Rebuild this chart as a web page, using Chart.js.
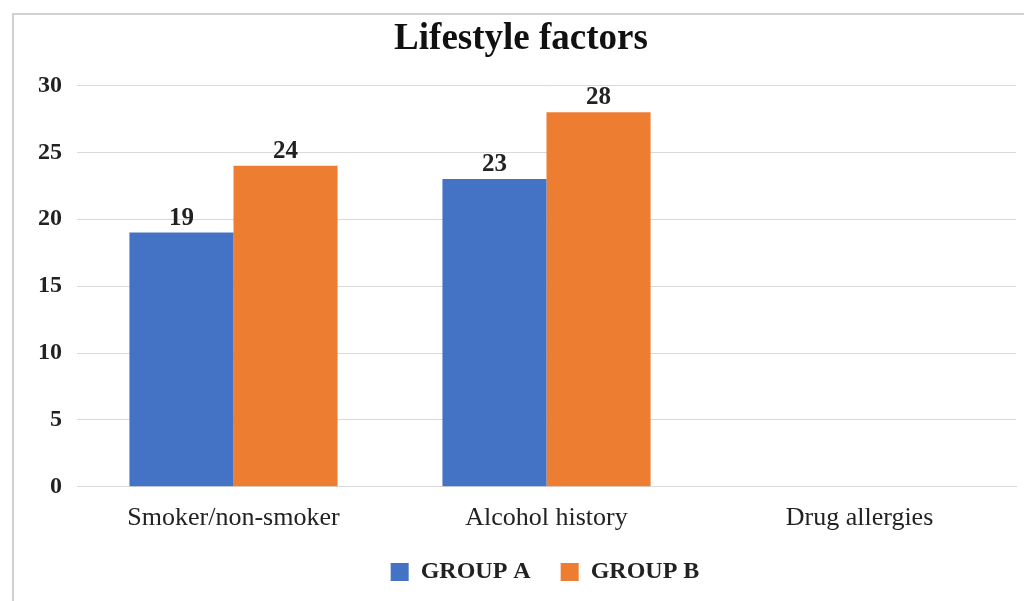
<!DOCTYPE html>
<html>
<head>
<meta charset="utf-8">
<script src="https://cdn.jsdelivr.net/npm/chart.js@4.4.1/dist/chart.umd.min.js"></script>
<style>
  html, body { margin: 0; padding: 0; background: #fff; }
  #wrap { position: relative; width: 1024px; height: 601px; overflow: hidden; }
  #frame { position: absolute; left: 12px; top: 13px; width: 1100px; height: 700px;
           border-left: 2px solid #d0d0d0; border-top: 2px solid #d0d0d0; }
  #holder { position: absolute; left: 0; top: 0; width: 1024px; height: 601px; }
</style>
</head>
<body>
<div id="wrap">
  <div id="frame"></div>
  <div id="holder"><canvas id="myChart"></canvas></div>
</div>
<script>
const categories = ["Smoker/non-smoker", "Alcohol history", "Drug allergies"];
const groupA = [19, 23, null];
const groupB = [24, 28, null];
const yTicks = [0, 5, 10, 15, 20, 25, 30];

const serif = "'Liberation Serif', 'Times New Roman', serif";

// value labels above each bar
const barValues = {
  id: "barValues",
  afterDatasetsDraw(chart) {
    const ctx = chart.ctx;
    ctx.save();
    ctx.font = "bold 25px " + serif;
    ctx.fillStyle = "#222";
    ctx.textAlign = "center";
    ctx.textBaseline = "bottom";
    chart.data.datasets.forEach((ds, i) => {
      chart.getDatasetMeta(i).data.forEach((bar, j) => {
        const v = ds.data[j];
        if (v == null) return;
        ctx.fillText(String(v), bar.x, bar.y - 2);
      });
    });
    ctx.restore();
  },
};

// pull the legend up closer to the axis labels and a bit to the right
const legendNudge = {
  id: "legendNudge",
  afterLayout(chart) {
    const lg = chart.legend;
    if (!lg) return;
    lg.top -= 12;
    lg.bottom -= 12;
    lg.left += 24;
    lg.right += 24;
  },
};

const chart = document.getElementById("myChart");

const config01 = {
  type: "bar",
  data: {
    labels: categories,
    datasets: [
      { label: "GROUP A", data: groupA, backgroundColor: "#4472C4" },
      { label: "GROUP B", data: groupB, backgroundColor: "#ED7D31" },
    ],
  },
  options: {
    responsive: true,
    maintainAspectRatio: false,
    animation: false,
    layout: { padding: { left: 26, right: 8, top: 17, bottom: -5 } },
    datasets: { bar: { categoryPercentage: 0.665, barPercentage: 1.0 } },
    plugins: {
      title: {
        display: true,
        text: "Lifestyle factors",
        color: "#111",
        font: { family: serif, size: 37, weight: "bold" },
        padding: { top: 0, bottom: 24 },
      },
      tooltip: { enabled: false },
      legend: {
        display: true,
        position: "bottom",
        labels: {
          color: "#222",
          font: { family: serif, size: 24, weight: "bold" },
          boxWidth: 18,
          boxHeight: 18,
          padding: 30,
        },
      },
    },
    scales: {
      x: {
        grid: { display: false },
        border: { color: "#d9d9d9" },
        ticks: { color: "#222", font: { family: serif, size: 26 }, padding: 8 },
      },
      y: {
        min: 0,
        max: 30,
        afterBuildTicks: (s) => { s.ticks = yTicks.map((v) => ({ value: v })); },
        afterFit: (s) => { s.width = 51; },
        grid: { color: "#d9d9d9", drawTicks: false },
        border: { display: false },
        ticks: { color: "#222", font: { family: serif, size: 24, weight: "bold" }, padding: 15 },
      },
    },
  },
  plugins: [barValues, legendNudge],
};

const chart01 = new Chart(chart, config01);
</script>
</body>
</html>
